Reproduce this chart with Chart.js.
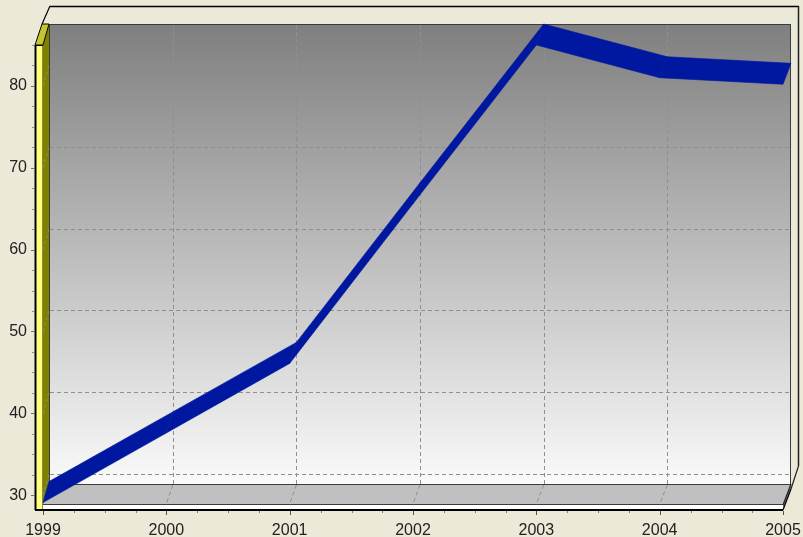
<!DOCTYPE html>
<html>
<head>
<meta charset="utf-8">
<script src="https://cdn.jsdelivr.net/npm/chart.js@4/dist/chart.umd.min.js"></script>
<style>
  html, body { margin: 0; padding: 0; background: #ECE9D8; }
  #c { display: block; }
</style>
</head>
<body>
<canvas id="c" width="803" height="537"></canvas>
<script>
// Yearly series
const years = ['1999', '2000', '2001', '2002', '2003', '2004', '2005'];
const values = [29.1, 37.6, 46.1, 65.6, 85, 81, 80.2];
const yTickValues = [30, 40, 50, 60, 70, 80];
const yMin = 28.8;
const yMax = 85;
const yMinorStep = 2.5;

// 3D box geometry (pixels)
const DEPTH_X0 = 6, DEPTH_X1 = 8, DEPTH_Y = -21;
const WALL = 8;          // left wall thickness
const FLOOR = 5;         // floor thickness
const SLAB_X = 8, SLAB_Y = -18;  // back wall slab depth

const BG = '#ECE9D8';
const RIBBON = 'rgb(0,24,160)';
const GRID = '#8f8f8f';

function backPt(ca, x, y) {
  const t = (x - ca.left) / (ca.right - ca.left);
  return [x + DEPTH_X0 + (DEPTH_X1 - DEPTH_X0) * t, y + DEPTH_Y];
}

function poly(ctx, pts, fill, stroke, lw) {
  ctx.beginPath();
  ctx.moveTo(pts[0][0], pts[0][1]);
  for (let i = 1; i < pts.length; i++) ctx.lineTo(pts[i][0], pts[i][1]);
  ctx.closePath();
  if (fill) { ctx.fillStyle = fill; ctx.fill(); }
  if (stroke) { ctx.strokeStyle = stroke; ctx.lineWidth = lw || 1; ctx.stroke(); }
}

function line(ctx, x1, y1, x2, y2, color, lw, dash) {
  ctx.beginPath();
  ctx.setLineDash(dash || []);
  ctx.moveTo(x1, y1);
  ctx.lineTo(x2, y2);
  ctx.strokeStyle = color;
  ctx.lineWidth = lw || 1;
  ctx.stroke();
  ctx.setLineDash([]);
}

const box3d = {
  id: 'box3d',
  beforeDraw(chart) {
    const ctx = chart.ctx;
    ctx.save();
    ctx.fillStyle = BG;
    ctx.fillRect(0, 0, chart.width, chart.height);
    ctx.restore();
  },
  beforeDatasetsDraw(chart) {
    const ctx = chart.ctx;
    const ca = chart.chartArea;
    const xs = chart.scales.x, ys = chart.scales.y;
    const L = ca.left, R = ca.right, T = ca.top, B = ca.bottom;
    const [bL, bT] = backPt(ca, L, T);
    const [bR] = backPt(ca, R, T);
    const bB = B + DEPTH_Y;

    ctx.save();

    // back wall slab: top and right faces
    poly(ctx, [[bL - 7, bT], [bL - 7 + SLAB_X, bT + SLAB_Y], [bR + SLAB_X, bT + SLAB_Y], [bR, bT]], BG);
    poly(ctx, [[bR, bT], [bR + SLAB_X, bT + SLAB_Y], [bR + SLAB_X, bB + SLAB_Y], [bR, bB]], BG);
    line(ctx, bL - 7 + SLAB_X, bT + SLAB_Y + 0.5, bR + SLAB_X, bT + SLAB_Y + 0.5, '#000', 1.5);
    line(ctx, bL - 7, bT, bL - 7 + SLAB_X, bT + SLAB_Y, '#000', 1.2);
    line(ctx, bR + SLAB_X - 0.5, bT + SLAB_Y, bR + SLAB_X - 0.5, bB + SLAB_Y, '#222', 1.5);
    line(ctx, bR + SLAB_X - 0.5, bB + SLAB_Y, bR, bB + FLOOR, '#222', 1.2);

    // back wall gradient face
    const g = ctx.createLinearGradient(0, bT, 0, bB);
    g.addColorStop(0, '#7f7f7f');
    g.addColorStop(1, '#fafafa');
    ctx.fillStyle = g;
    ctx.fillRect(bL, bT, bR - bL, bB - bT);
    ctx.strokeStyle = '#3c3c3c';
    ctx.lineWidth = 1;
    ctx.strokeRect(bL + 0.5, bT + 0.5, bR - bL - 1, bB - bT);

    // horizontal gridlines on back wall
    ys.ticks.forEach(t => {
      const y = Math.round(ys.getPixelForValue(t.value) + DEPTH_Y) + 0.5;
      line(ctx, bL + 1, y, bR - 1, y, GRID, 1, [4, 3]);
    });
    // vertical gridlines on back wall
    for (let i = 1; i < years.length - 1; i++) {
      const x = xs.getPixelForValue(i);
      const bx = Math.round(backPt(ca, x, 0)[0]) + 0.5;
      line(ctx, bx, bT + 1, bx, bB, GRID, 1, [4, 3]);
    }

    // floor
    poly(ctx, [[L, B], [R, B], [bR, bB], [bL, bB]], '#c0c0c0');
    line(ctx, bL, bB + 0.5, bR, bB + 0.5, '#3c3c3c', 1.2);
    line(ctx, L, B - 0.5, R, B - 0.5, '#3c3c3c', 1.2);
    ctx.fillStyle = '#ffffff';
    ctx.fillRect(L, B, R - L, FLOOR);
    poly(ctx, [[R, B], [bR, bB], [bR, bB + FLOOR], [R, B + FLOOR]], '#7a7a7a');
    line(ctx, R, B, bR, bB, '#222', 1.2);
    for (let i = 1; i < years.length - 1; i++) {
      const x = xs.getPixelForValue(i);
      const bx = backPt(ca, x, 0)[0];
      line(ctx, bx, bB + 1, x, B - 1, GRID, 1, [4, 3]);
    }

    // left wall: side, top, front faces
    poly(ctx, [[L, T], [bL, bT], [bL, bB], [L, B]], '#808000');
    ys.ticks.forEach(t => {
      const y = ys.getPixelForValue(t.value);
      line(ctx, L, y, bL, y + DEPTH_Y, 'rgba(150,150,150,0.7)', 1, [3, 3]);
    });
    poly(ctx, [[L - WALL, T], [L, T], [bL, bT], [bL - WALL + 1, bT]], '#c4c430', '#000', 1);
    ctx.fillStyle = '#ffff80';
    ctx.fillRect(L - WALL, T, WALL, B + FLOOR - T);
    line(ctx, L - WALL, T + 0.5, L, T + 0.5, '#000', 1);
    line(ctx, L - 0.5, T, L - 0.5, B + FLOOR, 'rgba(60,60,0,0.6)', 1);

    ctx.restore();
  },
  afterDatasetsDraw(chart) {
    const ctx = chart.ctx;
    const ca = chart.chartArea;
    const pts = chart.getDatasetMeta(0).data;
    const L = ca.left, R = ca.right, T = ca.top, B = ca.bottom;
    ctx.save();

    // ribbon of the 3D line
    for (let i = 0; i < pts.length - 1; i++) {
      const p1 = [pts[i].x, pts[i].y];
      const p2 = [pts[i + 1].x, pts[i + 1].y];
      const q1 = backPt(ca, p1[0], p1[1]);
      const q2 = backPt(ca, p2[0], p2[1]);
      ctx.lineJoin = 'round';
      poly(ctx, [p1, p2, q2, q1], RIBBON, RIBBON, 0.6);
    }

    // axis outline along the front of the box
    line(ctx, L - WALL + 0.5, T, L - WALL + 0.5, B + FLOOR, '#000', 2);
    line(ctx, L - WALL, B + FLOOR, R, B + FLOOR, '#000', 2);
    const [bR, bB] = backPt(ca, R, B);
    line(ctx, R, B + FLOOR, bR, bB + FLOOR, '#000', 1.2);

    // y ticks (major and minor)
    const ys = chart.scales.y, xs = chart.scales.x;
    const ax = L - WALL;
    for (let v = 27.5; v <= yMax; v += yMinorStep) {
      const y = Math.round(ys.getPixelForValue(v)) + 0.5;
      if (y > B + FLOOR) continue;
      const major = yTickValues.includes(v);
      line(ctx, ax - (major ? 4 : 3), y, ax - 1, y, major ? '#707070' : '#909090', 1);
    }
    // x ticks (major and minor)
    const ty = B + FLOOR + 1;
    for (let i = 0; i < years.length; i++) {
      const x = Math.round(xs.getPixelForValue(i)) + 0.5;
      line(ctx, x, ty, x, ty + 4, '#505050', 1);
      if (i < years.length - 1) {
        const x2 = xs.getPixelForValue(i + 1);
        for (let k = 1; k < 4; k++) {
          const mx = Math.round(x + (x2 - x) * k / 4) + 0.5;
          line(ctx, mx, ty, mx, ty + 2, '#808080', 1);
        }
      }
    }
    ctx.restore();
  }
};

new Chart(document.getElementById('c'), {
  type: 'line',
  data: {
    labels: years,
    datasets: [{
      data: values,
      borderWidth: 0,
      borderColor: 'rgba(0,0,0,0)',
      pointRadius: 0,
      showLine: false
    }]
  },
  options: {
    responsive: false,
    animation: false,
    devicePixelRatio: 1,
    layout: { padding: { top: 45, right: 20, left: 0, bottom: 0 } },
    plugins: { legend: { display: false }, tooltip: { enabled: false } },
    scales: {
      x: {
        type: 'category',
        offset: false,
        grid: { display: false, drawTicks: false },
        border: { display: false },
        ticks: {
          padding: 16, color: '#222', autoSkip: false, maxRotation: 0,
          font: { family: 'Liberation Sans', size: 16 }
        },
        afterFit(s) {
          s.height = 32;
          s.paddingLeft = 0;
          s.paddingRight = 0;
        }
      },
      y: {
        type: 'linear',
        min: yMin,
        max: yMax,
        grid: { display: false, drawTicks: false },
        border: { display: false },
        afterBuildTicks(s) { s.ticks = yTickValues.map(v => ({ value: v })); },
        ticks: {
          padding: 16, color: '#222',
          font: { family: 'Liberation Sans', size: 16 }
        },
        afterFit(s) {
          s.width = 43;
          s.paddingTop = 0;
          s.paddingBottom = 0;
        }
      }
    }
  },
  plugins: [box3d]
});
</script>
</body>
</html>
